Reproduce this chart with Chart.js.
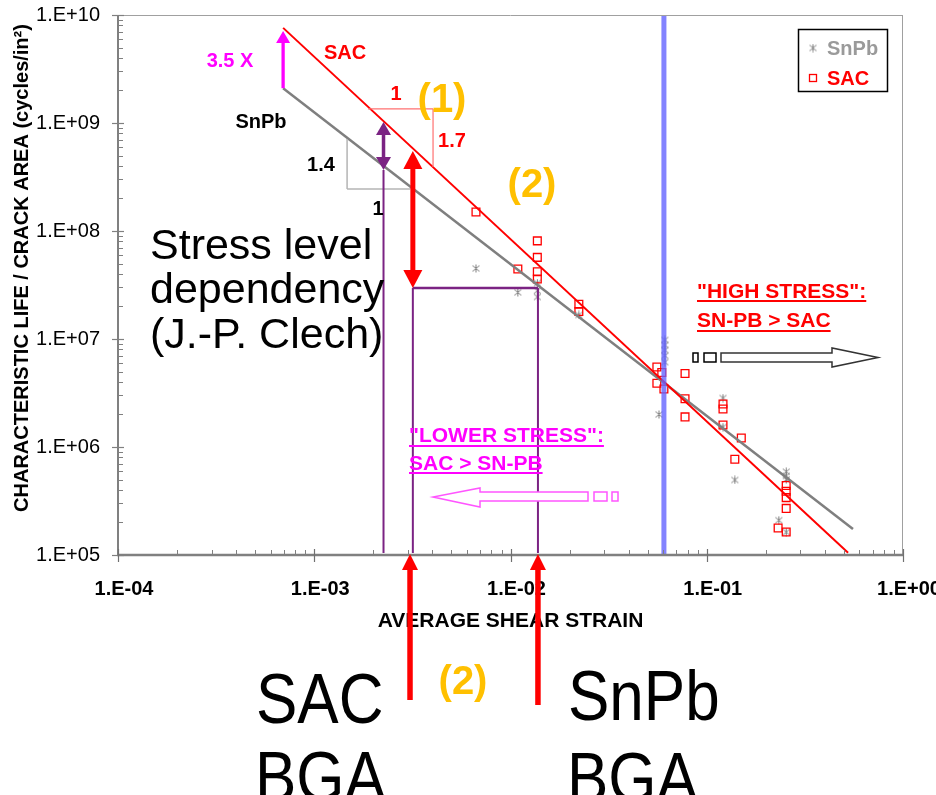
<!DOCTYPE html>
<html>
<head>
<meta charset="utf-8">
<script src="https://cdn.jsdelivr.net/npm/chart.js@4/dist/chart.umd.min.js"></script>
<style>
  html, body { margin: 0; padding: 0; background: #fff; }
  #wrap { width: 936px; height: 795px; position: relative; }
</style>
</head>
<body>
<div id="wrap"><canvas id="chart" width="936" height="795"></canvas></div>
<script>
// ---- axis ticks ----
const xTickValues = [1e-4, 1e-3, 1e-2, 1e-1, 1];
const xTickLabels = ['1.E-04', '1.E-03', '1.E-02', '1.E-01', '1.E+00'];
const yTickValues = [1e5, 1e6, 1e7, 1e8, 1e9, 1e10];
const yTickLabels = ['1.E+05', '1.E+06', '1.E+07', '1.E+08', '1.E+09', '1.E+10'];

// ---- SAC test results: average shear strain vs characteristic life / crack area ----
const sacStrain = [0.00667, 0.0109, 0.0137, 0.0137, 0.0137, 0.0137, 0.0223, 0.0223,
  0.0557, 0.0557, 0.0590, 0.0605, 0.0775, 0.0775, 0.0775, 0.121, 0.121, 0.121,
  0.150, 0.139, 0.254, 0.254, 0.254, 0.254, 0.231, 0.254];
const sacLife = [1.50e8, 4.45e7, 8.1e7, 5.7e7, 4.2e7, 3.6e7, 2.1e7, 1.8e7,
  5.5e6, 3.9e6, 4.9e6, 3.45e6, 4.8e6, 2.8e6, 1.9e6, 2.5e6, 2.25e6, 1.6e6,
  1.21e6, 7.7e5, 4.4e5, 3.9e5, 3.4e5, 2.7e5, 1.78e5, 1.63e5];

// ---- SnPb test results ----
const snpbStrain = [0.00667, 0.0109, 0.0137, 0.0137, 0.0137, 0.0223,
  0.0612, 0.0612, 0.0612, 0.0612, 0.0612, 0.0571, 0.121, 0.121, 0.139,
  0.254, 0.254, 0.254, 0.233, 0.254];
const snpbLife = [4.5e7, 2.7e7, 3.3e7, 2.8e7, 2.45e7, 1.67e7,
  9.8e6, 8.8e6, 7.9e6, 7.0e6, 6.1e6, 2.0e6, 2.84e6, 1.53e6, 4.95e5,
  5.9e5, 5.4e5, 5.0e5, 2.1e5, 1.63e5];

// ---- power-law fits (end points) ----
const sacFitStrain = [6.94e-4, 0.525];
const sacFitLife = [7.6e9, 1.05e5];
const snpbFitStrain = [6.94e-4, 0.556];
const snpbFitLife = [2.1e9, 1.74e5];

// ---- series names ----
const seriesNames = ['SnPb', 'SAC'];

const FONT = "'Liberation Sans', Arial, Helvetica, sans-serif";
const RED = '#ff0000';
const GRAY = '#7f7f7f';
const PURPLE = '#7b2383';
const MAGENTA = '#ff00ff';
const ORANGE = '#ffc000';

// Annotation anchors in data coordinates (strain, life)
const ann = {
  factorArrow: { x: 6.94e-4, from: 2.1e9, to: 7.1e9 },
  redSlope: { x1: 0.00188, x2: 0.00403, yTop: 1.35e9, yBottom: 3.92e8 },
  graySlope: { x1: 0.00147, x2: 0.00308, yTop: 7.1e8, yBottom: 2.45e8 },
  purpleArrow: { x: 0.002254, top: 1.02e9, bottom: 3.67e8 },
  redArrow: { x: 0.00318, top: 5.5e8, bottom: 2.97e7 },
  snpbStrainLine: 0.0138,
  bgaLeft: 0.003076,
  splitStrain: 0.0605
};

// asterisk marker (vertical bar crossed by an X)
function makeAsterisk(color) {
  const c = document.createElement('canvas');
  c.width = 9; c.height = 9;
  const g = c.getContext('2d');
  g.strokeStyle = color; g.lineWidth = 1;
  g.beginPath();
  g.moveTo(4.5, 0.5); g.lineTo(4.5, 8.5);
  g.moveTo(1, 1.5); g.lineTo(8, 7.5);
  g.moveTo(8, 1.5); g.lineTo(1, 7.5);
  g.stroke();
  return c;
}
const asterisk = makeAsterisk(GRAY);

function logTicks(decades) {
  const out = [];
  for (let i = 0; i < decades.length; i++) {
    out.push({ value: decades[i], major: true });
    if (i < decades.length - 1) {
      for (let k = 2; k <= 9; k++) out.push({ value: decades[i] * k, major: false });
    }
  }
  return out;
}

function pts(xs, ys) { return xs.map((x, i) => ({ x, y: ys[i] })); }

// keep the plot area fixed: no extra room reserved for overhanging labels
function fixBox(s, key, size) {
  s[key] = size;
  s.paddingLeft = 0; s.paddingRight = 0; s.paddingTop = 0; s.paddingBottom = 0;
}

// ---- drawing helpers ----
function line(ctx, x1, y1, x2, y2, color, w) {
  ctx.beginPath(); ctx.moveTo(x1, y1); ctx.lineTo(x2, y2);
  ctx.strokeStyle = color; ctx.lineWidth = w; ctx.stroke();
}
function arrowHead(ctx, tx, ty, ux, uy, hw, hl) {
  const bx = tx - ux * hl, by = ty - uy * hl, nx = -uy, ny = ux;
  ctx.beginPath();
  ctx.moveTo(tx, ty);
  ctx.lineTo(bx + nx * hw / 2, by + ny * hw / 2);
  ctx.lineTo(bx - nx * hw / 2, by - ny * hw / 2);
  ctx.closePath(); ctx.fill();
}
function arrow(ctx, x1, y1, x2, y2, shaftW, headW, headL, color, both) {
  const dx = x2 - x1, dy = y2 - y1, len = Math.hypot(dx, dy);
  const ux = dx / len, uy = dy / len;
  const s1 = both ? headL * 0.8 : 0, s2 = headL * 0.8;
  ctx.save();
  ctx.fillStyle = color; ctx.lineCap = 'butt';
  line(ctx, x1 + ux * s1, y1 + uy * s1, x2 - ux * s2, y2 - uy * s2, color, shaftW);
  arrowHead(ctx, x2, y2, ux, uy, headW, headL);
  if (both) arrowHead(ctx, x1, y1, -ux, -uy, headW, headL);
  ctx.restore();
}
function text(ctx, t, x, y, font, color, align, baseline, sy) {
  ctx.save();
  ctx.font = font; ctx.fillStyle = color;
  ctx.textAlign = align || 'left'; ctx.textBaseline = baseline || 'alphabetic';
  ctx.translate(x, y);
  if (sy) ctx.scale(1, sy);
  ctx.fillText(t, 0, 0);
  ctx.restore();
}
function underlined(ctx, t, x, y, font, color, gap) {
  text(ctx, t, x, y, font, color);
  ctx.save(); ctx.font = font;
  const w = ctx.measureText(t).width;
  ctx.restore();
  line(ctx, x, y + gap, x + w, y + gap, color, 2);
}
function outline(ctx, poly, color, w) {
  ctx.beginPath();
  poly.forEach((p, i) => i ? ctx.lineTo(p[0], p[1]) : ctx.moveTo(p[0], p[1]));
  ctx.closePath();
  ctx.fillStyle = '#fff'; ctx.fill();
  ctx.strokeStyle = color; ctx.lineWidth = w; ctx.stroke();
}

const decorations = {
  id: 'decorations',
  afterDatasetsDraw(chart) {
    const { ctx, chartArea: a, scales: { x: xs, y: ys } } = chart;
    const X = v => xs.getPixelForValue(v), Y = v => ys.getPixelForValue(v);
    ctx.save();

    // boundary between lower and high stress regimes
    ctx.fillStyle = 'rgba(100,100,255,0.8)';
    ctx.fillRect(X(ann.splitStrain) - 2.5, a.top + 1, 5, a.bottom - a.top - 2);

    // slope triangles
    const rs = ann.redSlope;
    line(ctx, X(rs.x1), Y(rs.yTop), X(rs.x2), Y(rs.yTop), '#ff7070', 1.2);
    line(ctx, X(rs.x2), Y(rs.yTop), X(rs.x2), Y(rs.yBottom), '#ff7070', 1.2);
    const gs = ann.graySlope;
    line(ctx, X(gs.x1), Y(gs.yTop), X(gs.x1), Y(gs.yBottom), '#b4b4b4', 1.5);
    line(ctx, X(gs.x1), Y(gs.yBottom), X(gs.x2), Y(gs.yBottom), '#b4b4b4', 1.5);

    // strain level guides
    const pa = ann.purpleArrow, ra = ann.redArrow;
    const yb = a.bottom - 2;
    line(ctx, X(pa.x), Y(pa.bottom), X(pa.x), yb, PURPLE, 2);
    line(ctx, X(ra.x), Y(ra.bottom), X(ra.x), yb, PURPLE, 2);
    line(ctx, X(ann.snpbStrainLine), Y(ra.bottom), X(ann.snpbStrainLine), yb, PURPLE, 2);
    line(ctx, X(ra.x), Y(ra.bottom), X(ann.snpbStrainLine), Y(ra.bottom), PURPLE, 2.5);

    arrow(ctx, X(pa.x), Y(pa.bottom), X(pa.x), Y(pa.top), 3.5, 15, 13, PURPLE, true);
    arrow(ctx, X(ra.x), Y(ra.bottom), X(ra.x), Y(ra.top), 5, 19, 18, RED, true);

    const fa = ann.factorArrow;
    arrow(ctx, X(fa.x), Y(fa.from), X(fa.x), Y(fa.to), 3.3, 14, 12, MAGENTA, false);

    // regime arrows
    ctx.lineJoin = 'miter';
    outline(ctx, [[693, 353], [698, 353], [698, 362], [693, 362]], '#000', 1.5);
    outline(ctx, [[704, 353], [716, 353], [716, 362], [704, 362]], '#000', 1.5);
    outline(ctx, [[721, 353], [832, 353], [832, 348], [878, 357.5], [832, 367], [832, 362], [721, 362]], '#333', 1.5);
    outline(ctx, [[594, 492], [607, 492], [607, 501], [594, 501]], '#ff55ff', 1.5);
    outline(ctx, [[612, 492], [618, 492], [618, 501], [612, 501]], '#ff55ff', 1.5);
    outline(ctx, [[588, 492], [480, 492], [480, 488], [433, 497], [480, 507], [480, 501], [588, 501]], '#ff55ff', 1.5);

    // labels inside the plot
    const B20 = 'bold 20px ' + FONT;
    text(ctx, '3.5 X', 230, 61, B20, MAGENTA, 'center', 'middle');
    text(ctx, 'SAC', 345, 53, B20, RED, 'center', 'middle');
    text(ctx, 'SnPb', 261, 122, B20, '#000', 'center', 'middle');
    text(ctx, '1', 396, 94, B20, RED, 'center', 'middle');
    text(ctx, '1.7', 452, 141, B20, RED, 'center', 'middle');
    text(ctx, '1.4', 321, 165, B20, '#000', 'center', 'middle');
    text(ctx, '1', 378, 209, B20, '#000', 'center', 'middle');
    text(ctx, '(1)', 442, 101, 'bold 40px ' + FONT, ORANGE, 'center', 'middle');
    text(ctx, '(2)', 532, 186, 'bold 40px ' + FONT, ORANGE, 'center', 'middle');

    const R42 = '43px ' + FONT;
    text(ctx, 'Stress level', 150, 259, R42, '#000');
    text(ctx, 'dependency', 150, 303, R42, '#000');
    text(ctx, '(J.-P. Clech)', 150, 348, R42, '#000');

    const B21 = 'bold 21px ' + FONT;
    underlined(ctx, '"HIGH STRESS":', 697, 298, B21, RED, 3);
    underlined(ctx, 'SN-PB > SAC', 697, 327, B21, RED, 4);
    underlined(ctx, '"LOWER STRESS":', 409, 442, B21, MAGENTA, 4);
    underlined(ctx, 'SAC > SN-PB', 409, 470, B21, MAGENTA, 3);

    ctx.restore();
  },
  afterDraw(chart) {
    const { ctx, chartArea: a, scales: { x: xs, y: ys } } = chart;
    const X = v => xs.getPixelForValue(v);
    ctx.save();

    // plot frame
    line(ctx, a.left, a.top + 0.5, a.right, a.top + 0.5, '#a0a0a0', 1);
    line(ctx, a.right - 0.5, a.top, a.right - 0.5, a.bottom, '#a0a0a0', 1);
    // axes
    line(ctx, a.left, a.top, a.left, a.bottom + 1, '#808080', 2);
    line(ctx, a.left - 1, a.bottom, a.right, a.bottom, '#808080', 2.5);
    // tick marks
    ys.ticks.forEach(t => {
      const p = Math.round(ys.getPixelForValue(t.value)) + 0.5;
      if (t.major) line(ctx, a.left - 6, p, a.left + 6, p, '#808080', 1.2);
      else line(ctx, a.left, p, a.left + 5, p, '#808080', 1);
    });
    xs.ticks.forEach(t => {
      const p = Math.round(xs.getPixelForValue(t.value)) + 0.5;
      if (t.major) line(ctx, p, a.bottom - 6, p, a.bottom + 7, '#707070', 1.2);
      else line(ctx, p, a.bottom - 5, p, a.bottom, '#808080', 1);
    });

    // y axis title
    ctx.save();
    ctx.translate(22, 268);
    ctx.rotate(-Math.PI / 2);
    text(ctx, 'CHARACTERISTIC LIFE / CRACK AREA (cycles/in²)', 0, 0, 'bold 20px ' + FONT, '#000', 'center', 'middle');
    ctx.restore();

    // legend
    ctx.fillStyle = '#fff';
    ctx.fillRect(798, 29, 90, 63);
    ctx.strokeStyle = '#000'; ctx.lineWidth = 1.5;
    ctx.strokeRect(798.5, 29.5, 89, 62);
    ctx.drawImage(asterisk, 813 - 4.5, 48 - 4.5);
    ctx.strokeStyle = RED; ctx.lineWidth = 1.3;
    ctx.strokeRect(809.5, 74.5, 7, 7);
    text(ctx, seriesNames[0], 827, 49, 'bold 20px ' + FONT, '#9a9a9a', 'left', 'middle');
    text(ctx, seriesNames[1], 827, 79, 'bold 20px ' + FONT, RED, 'left', 'middle');

    // the two BGA strain levels
    arrow(ctx, X(ann.bgaLeft), 700, X(ann.bgaLeft), a.bottom - 1, 5.5, 16, 16, RED, false);
    arrow(ctx, X(ann.snpbStrainLine), 705, X(ann.snpbStrainLine), a.bottom - 1, 5.5, 16, 16, RED, false);

    const R62 = '62px ' + FONT;
    text(ctx, 'SAC', 256, 723, R62, '#000', 'left', 'alphabetic', 1.14);
    text(ctx, 'BGA', 255, 801, R62, '#000', 'left', 'alphabetic', 1.14);
    text(ctx, 'SnPb', 568, 720, R62, '#000', 'left', 'alphabetic', 1.14);
    text(ctx, 'BGA', 567, 802, R62, '#000', 'left', 'alphabetic', 1.14);
    text(ctx, '(2)', 463, 683, 'bold 40px ' + FONT, ORANGE, 'center', 'middle');

    ctx.restore();
  }
};

const tickLabel = (values, labels) => function (value) {
  const i = values.indexOf(value);
  return i >= 0 ? labels[i] : '';
};

new Chart(document.getElementById('chart'), {
  type: 'scatter',
  data: {
    datasets: [
      {
        label: 'SAC fit', data: pts(sacFitStrain, sacFitLife), showLine: true,
        borderColor: RED, borderWidth: 2, pointRadius: 0, order: 0
      },
      {
        label: 'SnPb fit', data: pts(snpbFitStrain, snpbFitLife), showLine: true,
        borderColor: GRAY, borderWidth: 2.5, pointRadius: 0, order: 0
      },
      {
        label: seriesNames[0], data: pts(snpbStrain, snpbLife),
        pointStyle: asterisk, order: 2
      },
      {
        label: seriesNames[1], data: pts(sacStrain, sacLife),
        pointStyle: 'rect', pointRadius: 5.5, borderColor: RED, borderWidth: 1.3,
        backgroundColor: 'rgba(0,0,0,0)', order: 1
      }
    ]
  },
  options: {
    responsive: false,
    animation: false,
    devicePixelRatio: 1,
    layout: { padding: { left: 0, top: 15, right: 33, bottom: 160 } },
    plugins: { legend: { display: false }, tooltip: { enabled: false } },
    scales: {
      x: {
        type: 'logarithmic', min: 1e-4, max: 1,
        afterBuildTicks: s => { s.ticks = logTicks(xTickValues); },
        afterFit: s => fixBox(s, 'height', 80),
        grid: { display: false, drawTicks: false },
        border: { display: false },
        ticks: {
          autoSkip: false, maxRotation: 0, minRotation: 0, padding: 22, labelOffset: 6,
          font: { family: FONT, size: 20, weight: 'bold' }, color: '#000',
          callback: tickLabel(xTickValues, xTickLabels)
        },
        title: {
          display: true, text: 'AVERAGE SHEAR STRAIN', color: '#000',
          font: { family: FONT, size: 21, weight: 'bold' }, padding: { top: 0, bottom: 1 }
        }
      },
      y: {
        type: 'logarithmic', min: 1e5, max: 1e10,
        afterBuildTicks: s => { s.ticks = logTicks(yTickValues); },
        afterFit: s => fixBox(s, 'width', 118),
        grid: { display: false, drawTicks: false },
        border: { display: false },
        ticks: {
          autoSkip: false, padding: 18,
          font: { family: FONT, size: 20 }, color: '#000',
          callback: tickLabel(yTickValues, yTickLabels)
        }
      }
    }
  },
  plugins: [decorations]
});
</script>
</body>
</html>
